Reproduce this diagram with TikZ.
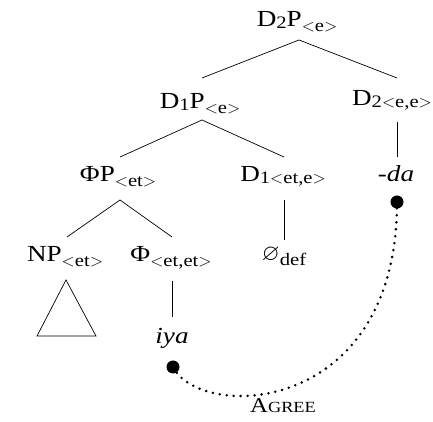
\documentclass[tikz,border=0pt]{standalone}
\usepackage{amssymb}
\usepackage{fontspec}
\setmainfont{Liberation Serif}[FakeStretch=1.18]
\newcommand\sbx[2][5pt]{\raisebox{-#1}{\fontsize{17.5}{18}\selectfont #2}}
\newcommand\lt{\ensuremath{<}}
\newcommand\gt{\ensuremath{>}}
\tikzset{
  lab/.style={anchor=base, inner sep=0pt, font=\fontsize{23}{25}\selectfont},
  br/.style={line width=0.7pt},
  dotnode/.style={circle, fill=black, inner sep=0pt, minimum size=13pt},
  agreeline/.style={line width=2.8pt, line cap=round, dash pattern=on 0pt off 7pt}
}
\begin{document}
\begin{tikzpicture}[x=1pt,y=1pt]
\useasboundingbox (0,0) rectangle (433,422);
\node[lab] (d2p) at (297,395) {D\sbx[1.5pt]{2}P\sbx{\lt e\gt}};
\node[lab] (d1p) at (200,313) {D\sbx[1.5pt]{1}P\sbx{\lt e\gt}};
\node[lab] (d2) at (392,316) {D\sbx[2pt]{2\lt e,e\gt}};
\node[lab] (phip) at (118,240) {ΦP\sbx{\lt et\gt}};
\node[lab] (d1) at (283,240) {D\sbx[2pt]{1\lt et,e\gt}};
\node[lab] (da) at (396,240) {\itshape -da};
\node[lab] (np) at (65,160) {NP\sbx{\lt et\gt}};
\node[lab] (phi) at (171,160) {Φ\sbx{\lt et,et\gt}};
\node[lab] (null) at (284,161) {$\varnothing$\sbx{def}};
\node[lab] (iya) at (172,78) {\itshape iya};
\node[anchor=base, inner sep=0pt] (agree) at (283,9) {\fontsize{21}{23}\selectfont A\fontsize{15.5}{17}\selectfont GREE};

\draw[br] ([shift={(2,-13)}]d2p.base) -- ([shift={(2,31)}]d1p.base);
\draw[br] ([shift={(2,-13)}]d2p.base) -- ([shift={(5,28)}]d2.base);
\draw[br] ([shift={(2,-11)}]d1p.base) -- ([shift={(2,25)}]phip.base);
\draw[br] ([shift={(2,-11)}]d1p.base) -- ([shift={(1,25)}]d1.base);
\draw[br] ([shift={(5,-16)}]d2.base) -- ([shift={(1,25)}]da.base);
\draw[br] ([shift={(2,-18)}]phip.base) -- ([shift={(2,25)}]np.base);
\draw[br] ([shift={(2,-18)}]phip.base) -- ([shift={(1,25)}]phi.base);
\draw[br] ([shift={(1,-18)}]d1.base) -- ([shift={(0,21)}]null.base);
\draw[br] ([shift={(1,-19)}]phi.base) -- ([shift={(0,27)}]iya.base);
\draw[br] ([shift={(1,-18)}]np.base) -- ([shift={(-28,-74)}]np.base) -- ([shift={(31,-74)}]np.base) -- cycle;

\coordinate (cdotiya) at (173,55);
\coordinate (cdotda) at (397,220);
\draw[agreeline] (cdotiya) .. controls (200,1) and (397,5) .. (cdotda);
\node[dotnode] (dotiya) at (cdotiya) {};
\node[dotnode] (dotda) at (cdotda) {};
\end{tikzpicture}
\end{document}
